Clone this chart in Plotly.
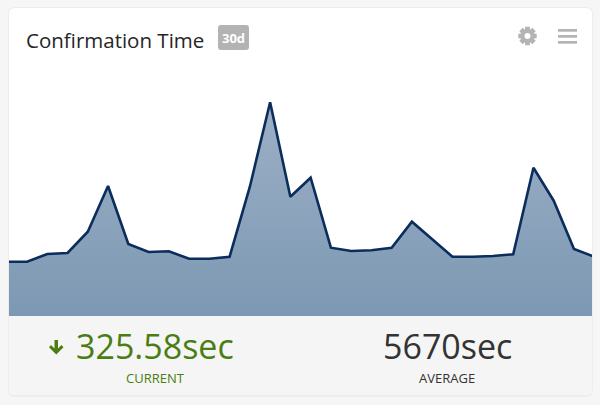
import math
import plotly.graph_objects as go

days = list(range(30))
confirmation_time = [54.3, 54.3, 62, 63, 84.3, 130, 72, 64, 64.7, 57.3,
                     57.3, 59.3, 129.3, 213.7, 119.3, 138.3, 68.3, 65, 65.7, 68.3,
                     94.3, 77, 59.3, 59.3, 60, 61.7, 148.3, 115.3, 67, 59.4]

title_text = "Confirmation Time"
badge_text = "30d"
current_value = "325.58sec"
current_label = "CURRENT"
average_value = "5670sec"
average_label = "AVERAGE"

W, H = 600, 405
GREEN = "#4a7d14"
DARK = "#333333"
ICON = "#b4b4b4"


def px(x):
    return x / W


def py(y):
    return 1 - y / H


def rounded_rect(x0, y0, x1, y1, r, top=True, bottom=True):
    """ svg path of a rectangle (pixel coords in, paper fractions out) """
    rt = r if top else 0
    rb = r if bottom else 0
    pts = [
        f"M {px(x0 + rt)},{py(y0)}",
        f"L {px(x1 - rt)},{py(y0)}",
        f"Q {px(x1)},{py(y0)} {px(x1)},{py(y0 + rt)}",
        f"L {px(x1)},{py(y1 - rb)}",
        f"Q {px(x1)},{py(y1)} {px(x1 - rb)},{py(y1)}",
        f"L {px(x0 + rb)},{py(y1)}",
        f"Q {px(x0)},{py(y1)} {px(x0)},{py(y1 - rb)}",
        f"L {px(x0)},{py(y0 + rt)}",
        f"Q {px(x0)},{py(y0)} {px(x0 + rt)},{py(y0)}",
        "Z",
    ]
    return " ".join(pts)


def polygon(points):
    return "M " + " L ".join(f"{px(x)},{py(y)}" for x, y in points) + " Z"


def gear(cx, cy, r_out, r_in, teeth=8):
    # solid cog outline, tooth width about half the pitch
    pts = []
    step = 2 * math.pi / teeth
    for i in range(teeth):
        a = i * step
        for da, r in ((-0.30, r_in), (-0.20, r_out), (0.20, r_out), (0.30, r_in)):
            ang = a + da * step * 1.6
            pts.append((cx + r * math.cos(ang), cy + r * math.sin(ang)))
    return polygon(pts)


fig = go.Figure()
fig.add_trace(go.Scatter(
    x=days, y=confirmation_time,
    mode="lines",
    line=dict(color="#0b2d5c", width=2.6),
    fill="tozeroy",
    fillgradient=dict(type="vertical",
                      colorscale=[[0, "#7d98b3"], [1, "#9cb0c6"]]),
    hoverinfo="skip",
    showlegend=False,
))

shapes = []
# card shadow + card + footer
shapes.append(dict(type="path", path=rounded_rect(8, 7, 593, 397, 7),
                   fillcolor="#ededed", line_width=0, layer="below"))
shapes.append(dict(type="path", path=rounded_rect(9, 8, 592, 395, 6),
                   fillcolor="#ffffff", line_width=0, layer="below"))
shapes.append(dict(type="path", path=rounded_rect(9, 316, 592, 395, 6, top=False),
                   fillcolor="#f5f5f5", line_width=0, layer="below"))
# badge
shapes.append(dict(type="path", path=rounded_rect(218, 25, 249, 50, 3),
                   fillcolor="#b3b3b3", line_width=0, layer="below"))
# hamburger icon
for y0 in (29, 35, 41):
    shapes.append(dict(type="rect", x0=px(558), x1=px(577), y0=py(y0), y1=py(y0 + 2.7),
                       fillcolor=ICON, line_width=0))
# gear icon
shapes.append(dict(type="path", path=gear(527.5, 36, 9.5, 6.8),
                   fillcolor=ICON, line_width=0))
shapes.append(dict(type="circle", x0=px(524.5), x1=px(530.5), y0=py(39), y1=py(33),
                   fillcolor="#ffffff", line_width=0))
# green down arrow
shapes.append(dict(type="path", path=polygon([
    (54.5, 340), (58, 340), (58, 348.5), (61.5, 345), (63.5, 347.2),
    (56.25, 354.5), (49, 347.2), (51, 345), (54.5, 348.5)]),
    fillcolor=GREEN, line_width=0))
for s in shapes:
    s.update(xref="paper", yref="paper")

annotations = [
    dict(text=title_text, x=px(24), y=py(40), xanchor="left", yanchor="middle",
         font=dict(family="Open Sans", size=20.5, color="#262626")),
    dict(text=f"<b>{badge_text}</b>", x=px(233.5), y=py(38), xanchor="center",
         yanchor="middle", font=dict(family="Open Sans", size=13, color="#ffffff")),
    dict(text=current_value, x=px(155), y=py(346), xanchor="center", yanchor="middle",
         font=dict(family="Open Sans", size=34, color=GREEN)),
    dict(text=current_label, x=px(155), y=py(378), xanchor="center", yanchor="middle",
         font=dict(family="Open Sans", size=13, color=GREEN)),
    dict(text=average_value, x=px(447), y=py(346), xanchor="center", yanchor="middle",
         font=dict(family="Open Sans", size=34, color=DARK)),
    dict(text=average_label, x=px(447), y=py(378), xanchor="center", yanchor="middle",
         font=dict(family="Open Sans", size=13, color=DARK)),
]
for a in annotations:
    a.update(xref="paper", yref="paper", showarrow=False)

fig.update_layout(
    width=W, height=H,
    margin=dict(l=0, r=0, t=0, b=0),
    paper_bgcolor="#f6f6f6",
    plot_bgcolor="rgba(0,0,0,0)",
    shapes=shapes,
    annotations=annotations,
    xaxis=dict(domain=[px(9), px(592)], range=[0.11, 28.89],
               visible=False, fixedrange=True),
    yaxis=dict(domain=[py(316), py(60)], range=[0, 256],
               visible=False, fixedrange=True),
)

# page has the default 8px body margin; drop it so the card sits where it should
fig.write_html("out.html", config={"displayModeBar": False},
               post_script="document.body.style.margin='0';"
                           "document.body.style.background='#f6f6f6';")
